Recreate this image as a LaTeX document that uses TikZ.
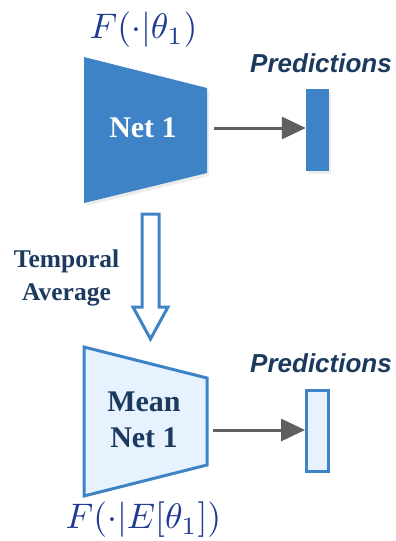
\documentclass[tikz,border=0pt]{standalone}
\usepackage{fontspec}
\setmainfont{Liberation Serif}
\newfontfamily\predfont{Liberation Sans}
\usetikzlibrary{arrows.meta,shadows}
\definecolor{netblue}{HTML}{3D83C5}
\definecolor{lightblue}{HTML}{E6F2FD}
\definecolor{navy}{HTML}{1B3A5E}
\definecolor{mathblue}{HTML}{1F3A93}
\definecolor{arrgray}{HTML}{5F5F5F}
\newcommand{\bigmath}[1]{\scalebox{3.55}{$#1$}}
\begin{document}
\begin{tikzpicture}[x=1pt,y=-1pt,
  lbl/.style={font=\fontsize{30}{36}\selectfont\bfseries, align=center, inner sep=0pt},
  sidelbl/.style={font=\fontsize{25.5}{33}\selectfont\bfseries, align=center, inner sep=0pt, text=navy},
  predlbl/.style={font=\predfont\fontsize{26}{28}\selectfont\bfseries\itshape, text=navy, inner sep=0pt},
  mathlbl/.style={font=\normalsize, text=mathblue, inner sep=0pt},
  flow/.style={draw=arrgray, line width=3pt, -{Triangle[length=24pt,width=22pt]}},
  solidnet/.style={fill=netblue, draw=none},
  hollownet/.style={fill=lightblue, draw=netblue, line width=3pt, line join=miter},
  softshadow/.style={drop shadow={opacity=0.15, shadow xshift=2pt, shadow yshift=-3pt}}
]
\useasboundingbox (0,0) rectangle (396,541);

% ---- top network ----
\path[solidnet, softshadow] (84,57) -- (207,88) -- (207,173) -- (84,203) -- cycle;
\node[lbl, text=white] (net1) at (143,128) {Net 1};
\coordinate (net1r) at (214,128);
\node[solidnet, softshadow, minimum width=23pt, minimum height=82pt, inner sep=0pt] (pred1) at (317.5,130) {};
\draw[flow] (net1r) -- (net1r -| pred1.west);
\node[predlbl] (plbl1) at (321,63) {Predictions};
\node[mathlbl] (f1) at (143.5,30) {\bigmath{F(\cdot|\theta_1)}};

% ---- temporal average arrow ----
\draw[draw=netblue, fill=white, line width=3pt, line join=miter]
  (142,214) -- (159,214) -- (159,307) -- (168,307) -- (150.5,339) -- (133,307) -- (142,307) -- cycle;
\node[sidelbl] (tavg) at (66.5,278) {Temporal\\Average};

% ---- bottom network ----
\path[hollownet] (84,347) -- (207,378) -- (207,465) -- (84,496) -- cycle;
\node[lbl, text=navy] (mnet1) at (144,420) {Mean\\Net 1};
\coordinate (mnet1r) at (213,430);
\node[hollownet, minimum width=22pt, minimum height=81pt, inner sep=0pt] (pred2) at (317.5,430.5) {};
\draw[flow] (mnet1r) -- (mnet1r -| pred2.west);
\node[predlbl] (plbl2) at (321,363) {Predictions};
\node[mathlbl] (f2) at (143.5,520) {\bigmath{F(\cdot|E[\theta_1])}};
\end{tikzpicture}
\end{document}
